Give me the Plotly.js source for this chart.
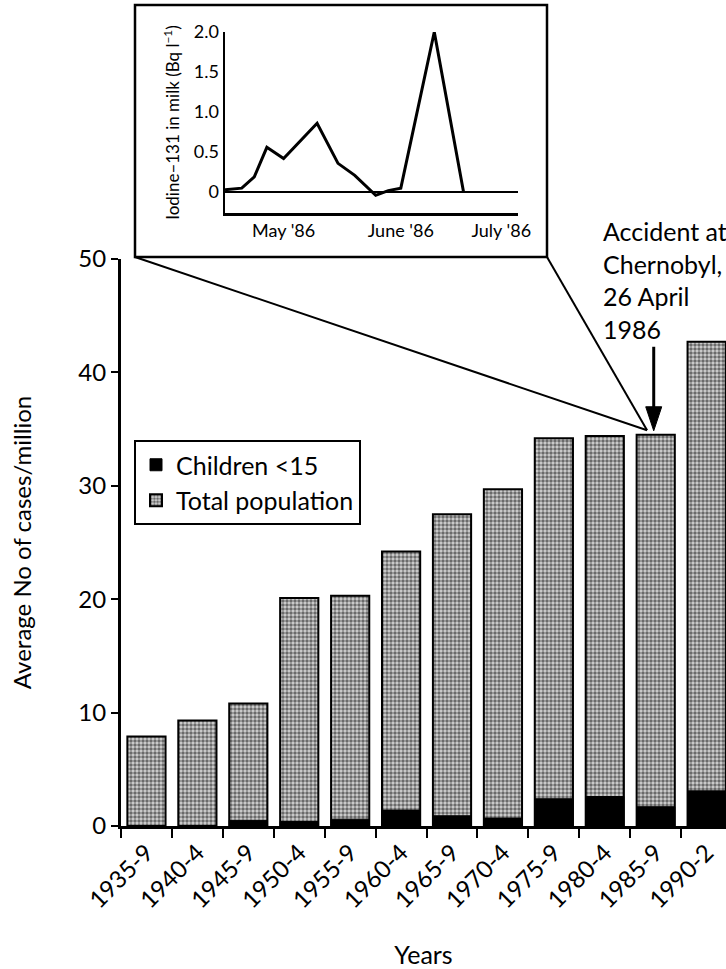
<!DOCTYPE html>
<html>
<head>
<meta charset="utf-8">
<script src="https://cdn.plot.ly/plotly-3.0.1.min.js"></script>
<style>html,body{margin:0;padding:0;background:#fff;}#chart{width:726px;height:969px;}</style>
</head>
<body>
<div id="chart"></div>
<script>
// ---- data ----
const periods = ["1935-9","1940-4","1945-9","1950-4","1955-9","1960-4","1965-9","1970-4","1975-9","1980-4","1985-9","1990-2"];
const totalPopulation = [7.9, 9.3, 10.8, 20.1, 20.3, 24.2, 27.5, 29.7, 34.2, 34.4, 34.5, 42.7];
const childrenUnder15 = [0, 0, 0.5, 0.4, 0.6, 1.4, 0.9, 0.7, 2.4, 2.6, 1.7, 3.1];

const iodineDates = ["1986-04-26","1986-04-30","1986-05-03","1986-05-06","1986-05-10","1986-05-18","1986-05-23","1986-05-27","1986-06-01","1986-06-04","1986-06-07","1986-06-15","1986-06-22"];
const iodineValues = [0.03, 0.05, 0.19, 0.56, 0.42, 0.86, 0.36, 0.21, -0.04, 0.02, 0.05, 2.0, 0.0];

const insetTickDates = ["1986-05-10","1986-06-07","1986-07-01"];
const insetTickText = ["May '86","June '86","July '86"];
const insetYTicks = [0, 0.5, 1, 1.5, 2];
const insetYText = ["0","0.5","1.0","1.5","2.0"];

// ---- geometry (pixels on the 726x969 page) ----
const W = 726, H = 969;
const XL = 121, XR = 726, YT = 259, YB = 826;
const xRange = [-0.5, 11.38], yRange = [0, 50];
const px = v => v / W, py = v => 1 - v / H;
// data -> page pixel for the main axes
const dataX = i => XL + (i - xRange[0]) / (xRange[1] - xRange[0]) * (XR - XL);
const dataY = v => YB - (v - yRange[0]) / (yRange[1] - yRange[0]) * (YB - YT);

const accidentIdx = periods.indexOf("1985-9");
const convX = dataX(accidentIdx - 0.17), convY = dataY(totalPopulation[accidentIdx] + 0.4);
const tipX = dataX(accidentIdx) - 2, tipY = dataY(totalPopulation[accidentIdx]) - 4;

const FONT = "Lato, 'Open Sans', sans-serif";

const traces = [
  {
    type: "bar", name: "Total population", x: periods, y: totalPopulation,
    xaxis: "x", yaxis: "y", legendrank: 2,
    marker: { color: "#ffffff", line: { color: "#000", width: 2 },
      pattern: { shape: ".", fgcolor: "#000", bgcolor: "#d4d4d4", size: 4, solidity: 0.6, fillmode: "overlay" } },
    hoverinfo: "skip"
  },
  {
    type: "bar", name: "Children <15", x: periods, y: childrenUnder15,
    xaxis: "x", yaxis: "y", legendrank: 1,
    marker: { color: "#000", line: { color: "#000", width: 1 } },
    hoverinfo: "skip"
  },
  {
    type: "scatter", mode: "lines", x: iodineDates, y: iodineValues,
    xaxis: "x2", yaxis: "y2", showlegend: false,
    line: { color: "#000", width: 3 }, hoverinfo: "skip"
  }
];

const layout = {
  width: W, height: H,
  margin: { l: 0, r: 0, t: 0, b: 0 },
  paper_bgcolor: "#fff", plot_bgcolor: "rgba(0,0,0,0)",
  font: { family: FONT, color: "#000", size: 22 },
  barmode: "overlay", bargap: 0.25,
  showlegend: true,
  legend: {
    x: px(134), y: py(440), xanchor: "left", yanchor: "top",
    bgcolor: "#fff", bordercolor: "#000", borderwidth: 2,
    font: { family: FONT, size: 25, color: "#000" },
    traceorder: "normal", tracegroupgap: 0
  },
  xaxis: {
    domain: [px(XL), 1], type: "category", range: xRange,
    showline: true, linecolor: "#000", linewidth: 3,
    ticks: "outside", tickson: "boundaries", ticklen: 9, tickwidth: 2, tickcolor: "#000",
    tickangle: -45, tickfont: { size: 24 },
    showgrid: false, zeroline: false, fixedrange: true,
    title: { text: "Years", font: { size: 25 }, standoff: 36 }
  },
  yaxis: {
    domain: [py(YB), py(YT)], range: yRange, dtick: 10,
    showline: true, linecolor: "#000", linewidth: 3,
    ticks: "outside", ticklen: 7, tickwidth: 2, tickcolor: "#000",
    tickfont: { size: 24 },
    showgrid: false, zeroline: false, fixedrange: true,
    title: { text: "Average No of cases/million", font: { size: 24 }, standoff: 40 }
  },
  xaxis2: {
    domain: [px(225), px(518)], anchor: "y2", type: "date",
    range: ["1986-04-26", "1986-07-05"],
    tickvals: insetTickDates, ticktext: insetTickText, ticks: "",
    tickfont: { size: 18 },
    showline: true, linecolor: "#000", linewidth: 2.5,
    showgrid: false, zeroline: false, fixedrange: true
  },
  yaxis2: {
    domain: [py(213), py(32)], anchor: "x2", range: [-0.26, 2.0],
    tickvals: insetYTicks, ticktext: insetYText, ticks: "",
    tickfont: { size: 18 },
    showline: true, linecolor: "#000", linewidth: 2.5,
    showgrid: false, zeroline: true, zerolinecolor: "#000", zerolinewidth: 2.5,
    fixedrange: true,
    title: { text: "Iodine–131 in milk (Bq l<sup>−1</sup>)", font: { size: 17 }, standoff: 10 }
  },
  shapes: [
    { type: "rect", xref: "paper", yref: "paper", x0: px(135), x1: px(547), y0: py(257), y1: py(5),
      line: { color: "#000", width: 2.5 }, fillcolor: "rgba(0,0,0,0)", layer: "above" },
    { type: "line", xref: "paper", yref: "paper", x0: px(135), y0: py(257), x1: px(convX), y1: py(convY),
      line: { color: "#000", width: 2 } },
    { type: "line", xref: "paper", yref: "paper", x0: px(547), y0: py(257), x1: px(convX), y1: py(convY),
      line: { color: "#000", width: 2 } },
    // arrow shaft and head
    { type: "line", xref: "paper", yref: "paper", x0: px(tipX), y0: py(tipY - 84), x1: px(tipX), y1: py(tipY - 18),
      line: { color: "#000", width: 3 } },
    { type: "path", xref: "paper", yref: "paper",
      path: "M " + px(tipX - 8) + " " + py(tipY - 24) + " L " + px(tipX + 8) + " " + py(tipY - 24) +
            " L " + px(tipX) + " " + py(tipY) + " Z",
      fillcolor: "#000", line: { color: "#000", width: 1 } }
  ],
  annotations: [
    { xref: "paper", yref: "paper", x: px(601), y: py(214), xanchor: "left", yanchor: "top",
      align: "left", showarrow: false,
      text: "Accident at<br>Chernobyl,<br>26 April<br>1986",
      font: { family: FONT, size: 25, color: "#000" } }
  ]
};

Plotly.newPlot("chart", traces, layout, { displayModeBar: false, staticPlot: true });
</script>
</body>
</html>
